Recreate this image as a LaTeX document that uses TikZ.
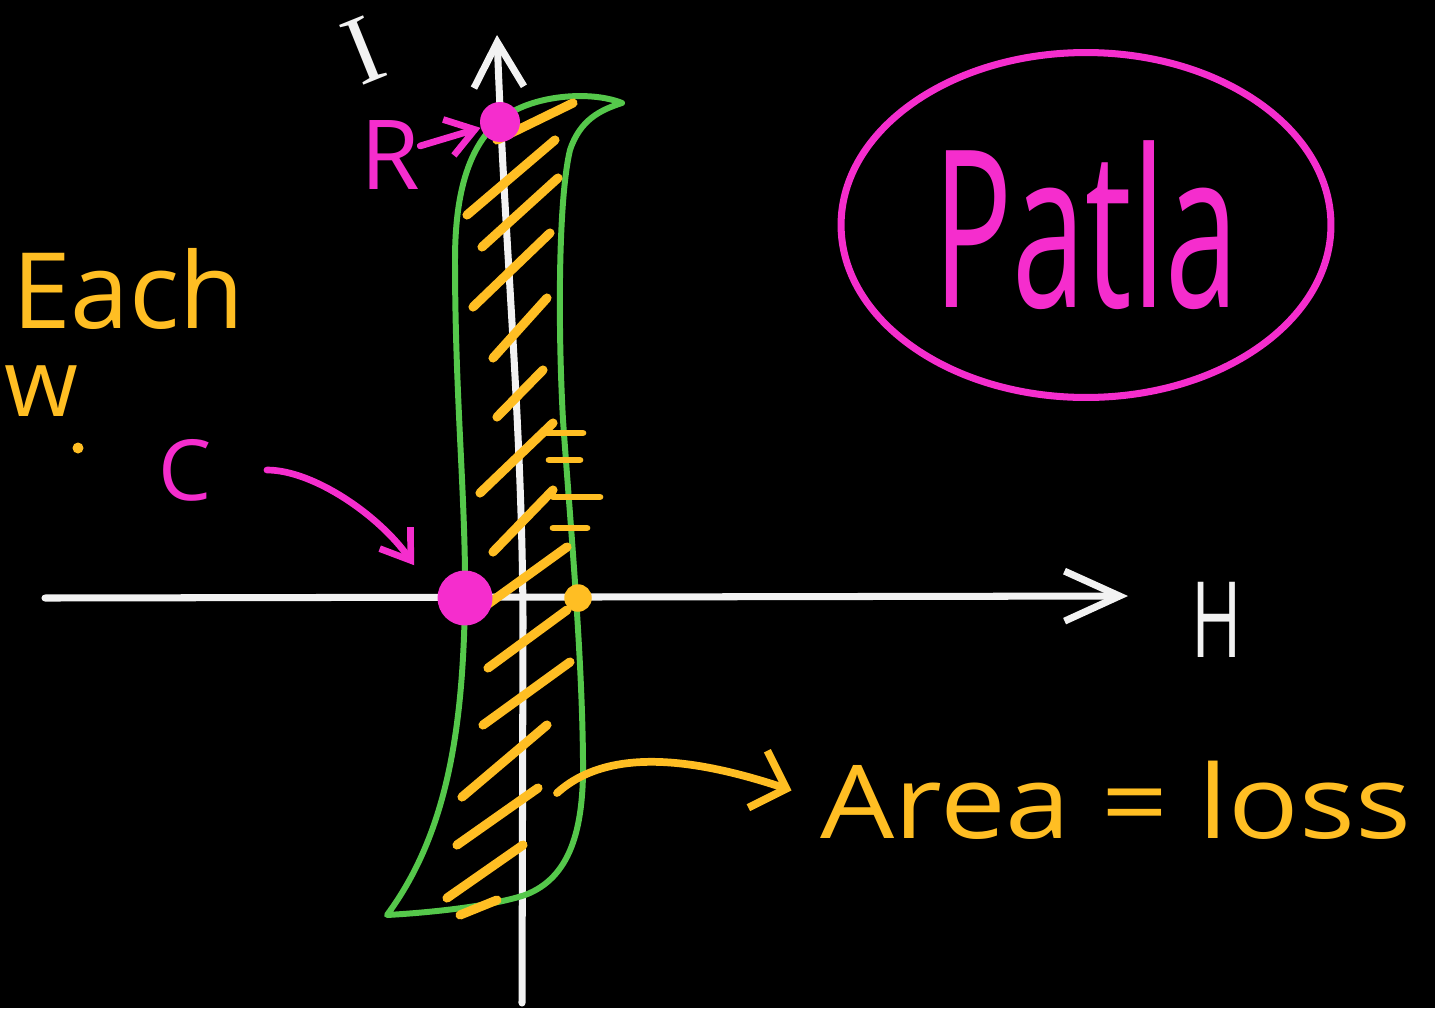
\documentclass[tikz,border=0pt]{standalone}
\usepackage{fontspec}
\setmainfont{Open Sans}
\newfontfamily\serifletter{Liberation Serif}
\usetikzlibrary{arrows.meta, shapes.geometric}
\definecolor{board}{RGB}{0,0,0}
\definecolor{inkpink}{RGB}{245,45,205}
\definecolor{inkgold}{RGB}{255,190,35}
\definecolor{inkgreen}{RGB}{85,200,75}
\definecolor{inkwhite}{RGB}{242,242,242}
\tikzset{
  axisline/.style={inkwhite, line width=4pt, line cap=round},
  bhloop/.style={inkgreen, line width=3.4pt, line join=round},
  hatchline/.style={inkgold, line width=5.2pt, line cap=round},
  pinkarrow/.style={inkpink, line width=3.8pt, line cap=round, -{Straight Barb[length=0.55cm, width=0.75cm]}},
  goldarrow/.style={inkgold, line width=4.4pt, line cap=round, -{Straight Barb[length=0.6cm, width=1.2cm]}},
  blob/.style={circle, inner sep=0pt},
  hand/.style={inner sep=0pt, font=\fontsize{#1}{#1}\selectfont}
}

\begin{document}
\begin{tikzpicture}[x=0.02cm, y=-0.02cm]

    % 1. Fondo
    \useasboundingbox (0,0) rectangle (1435,1008);
    \fill[board] (0,0) rectangle (1435,1008);

    % 2. Ejes H e I
    \draw[axisline, -{Straight Barb[length=1.1cm, width=1.0cm]}] (45,598) -- (1128,596);
    \draw[axisline, -{Straight Barb[length=0.9cm, width=1.0cm]}] (522,1003) -- (523,620)
        .. controls (522,420) and (505,250) .. (497,35);
    \node[hand=60pt, text=inkwhite] (hlabel) at (1217,620) {\scalebox{0.65}[1]{H}};
    \node[hand=56pt, text=inkwhite, rotate=22] (ilabel) at (364,50) {\serifletter I};

    % 3. Lazo de histeresis
    \draw[bhloop] (622,103) .. controls (590,90) and (530,95) .. (500,120)
        .. controls (470,145) and (455,190) .. (455,260)
        .. controls (455,400) and (466,500) .. (465,600)
        .. controls (463,720) and (450,830) .. (387,915)
        .. controls (440,912) and (495,905) .. (525,895)
        .. controls (570,878) and (584,830) .. (583,760)
        .. controls (582,650) and (570,520) .. (563,420)
        .. controls (558,330) and (558,200) .. (570,150)
        .. controls (580,120) and (600,110) .. (622,103) -- cycle;

    % rayado del area
    \foreach \xa/\ya/\xb/\yb in {
        497/140/573/103, 467/215/555/140, 482/247/558/178, 473/307/550/233,
        493/358/547/298, 497/417/543/370, 480/493/553/423, 493/552/553/490,
        477/612/567/547, 488/668/567/610, 483/725/570/662, 462/797/547/725,
        457/845/538/788, 447/898/523/845, 460/915/497/900
    } {
        \draw[hatchline] (\xa,\ya) -- (\xb,\yb);
    }
    \foreach \xa/\xb/\y in {547/583/433, 549/580/460, 553/600/497, 553/587/528} {
        \draw[hatchline, line width=3.8pt] (\xa,\y) -- (\xb,\y);
    }

    % 4. Puntos R, C y H_c
    \node[blob, fill=inkpink, minimum size=0.8cm] (rdot) at (500,122) {};
    \node[blob, fill=inkpink, minimum size=1.1cm] (cdot) at (465,598) {};
    \node[blob, fill=inkgold, minimum size=0.55cm] (hdot) at (578,598) {};

    \node[hand=55pt, text=inkpink] (rtxt) at (390,155) {R};
    \draw[pinkarrow] (rtxt) -- (rdot);

    \node[hand=48pt, text=inkpink] (ctxt) at (185,470) {C};
    \draw[pinkarrow, shorten <=1.1cm, shorten >=0.8cm] (ctxt) to[out=0, in=125] (cdot.west);

    % 5. Textos
    \node[hand=60pt, text=inkgold, anchor=base west] (each) at (12,328) {Each};
    \node[hand=54pt, text=inkgold, anchor=base west] (wtxt) at (4,416) {w};
    \node[blob, fill=inkgold, minimum size=0.22cm] (wdot) at (78,448) {};

    \node[hand=58pt, text=inkgold, anchor=base west] (area) at (820,838) {\scalebox{1.15}[1]{Area = loss}};
    \coordinate (lossfrom) at (557,793);
    \draw[goldarrow, shorten >=0.6cm] (lossfrom) .. controls (610,745) and (700,760) .. (area.west);

    \node[ellipse, draw=inkpink, line width=4pt, minimum width=9.8cm, minimum height=6.9cm,
          text=inkpink, hand=125pt] (patla) at (1086,225) {\scalebox{0.6}[1]{Patla}};

\end{tikzpicture}
\end{document}
